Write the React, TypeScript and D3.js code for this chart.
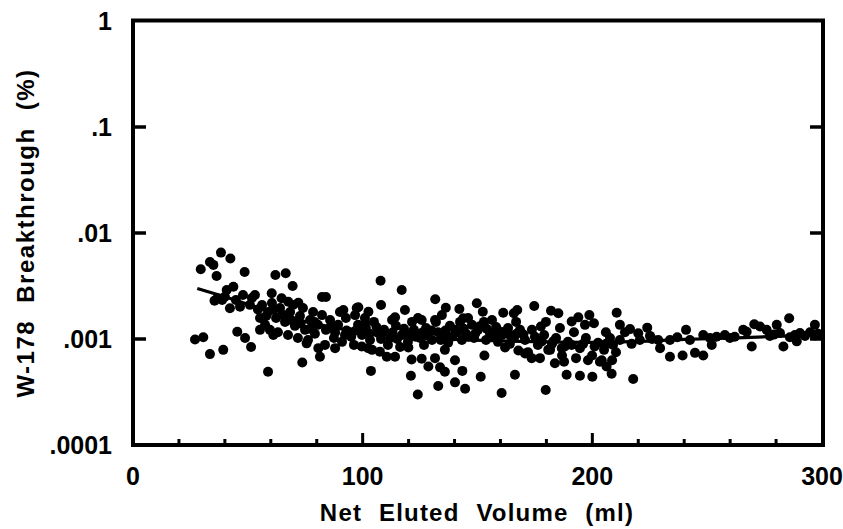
import React from "react";
import * as d3 from "d3";

// Net eluted volume (ml), W-178 breakthrough (%)
const points: [number, number][] = [
  [27.0,0.00099],[30.6,0.00104],[29.5,0.00455],[33.5,0.00533],[35.0,0.005],[38.3,0.00653],[42.4,0.00575],[36.4,0.00393],[33.5,0.00072],[39.3,0.00079],[48.6,0.00429],[36.7,0.00242],[40.8,0.0029],[43.7,0.00311],[45.4,0.00117],[48.8,0.00102],[51.4,0.00084],[58.8,0.00049],[62.0,0.00402],[66.5,0.00417],[69.5,0.00316],[60.4,0.0027],[53.1,0.0026],[64.7,0.00242],[67.6,0.00225],[72.0,0.0022],[42.2,0.00195],[46.6,0.00202],[50.9,0.0021],[73.7,0.0006],[81.4,0.00068],[80.7,0.00082],[75.6,0.00091],[55.3,0.00122],[61.1,0.00109],[82.3,0.00249],[84.0,0.00249],[91.6,0.00188],[97.4,0.00196],
  [44.8,0.00233],[47.9,0.0026],[51.8,0.00244],[54.4,0.0019],[38.8,0.00233],[35.5,0.0023],[40.0,0.0025],
  [56.2,0.00209],[58.8,0.0018],[60.5,0.00219],[62.3,0.00158],[64.0,0.00196],[66.2,0.00145],[68.4,0.0018],[70.5,0.00133],[72.7,0.00165],[74.9,0.00122],[77.1,0.00151],[79.2,0.00112],[57.5,0.00136],[59.6,0.00122],[63.1,0.00116],[67.5,0.00109],[71.8,0.00102],[76.2,0.00098],[55.3,0.00158],[69.7,0.00209],[74.0,0.00196],[78.4,0.0018],[80.5,0.00136],
  [82.3,0.00168],[84.0,0.00122],[85.8,0.00151],[87.5,0.00102],[89.3,0.00136],[91.0,0.00094],[92.7,0.00158],[94.5,0.00116],[96.2,0.00088],[98.0,0.00136],[99.7,0.00109],[101.4,0.00127],[103.2,0.00098],[104.9,0.00145],[106.7,0.00114],[83.6,0.00088],[88.0,0.00082],[92.3,0.00109],[96.7,0.00168],[101.0,0.00158],[104.1,0.00079],[90.1,0.0018],
  [109.3,0.00122],[111.9,0.00102],[114.5,0.00133],[117.1,0.00109],[119.7,0.00094],[122.3,0.00122],[125.0,0.00102],[127.6,0.00127],[130.2,0.00098],[132.8,0.00116],[135.4,0.00107],[138.0,0.00133],[111.0,0.00088],[116.3,0.00084],[121.5,0.00145],[126.7,0.00088],[131.9,0.00145],[137.2,0.00092],[112.8,0.00151],[124.1,0.00158],[134.5,0.00168],
  [140.2,0.00122],[142.4,0.00145],[145.0,0.00112],[147.6,0.00136],[150.2,0.00122],[152.8,0.00145],[155.4,0.00114],[158.1,0.0013],[160.7,0.00109],[163.3,0.00127],[165.9,0.00102],[168.5,0.00122],[143.2,0.00098],[148.5,0.00102],[153.7,0.00098],[158.9,0.00094],[164.1,0.0009],[145.9,0.00158],[156.3,0.00151],[166.8,0.00145],
  [170.7,0.00098],[173.7,0.00122],[176.3,0.00088],[179.0,0.00109],[181.6,0.00079],[184.2,0.00102],[186.8,0.0007],[189.4,0.00094],[192.0,0.00116],[194.6,0.00082],[197.2,0.00102],[199.9,0.0007],[202.5,0.00092],[205.1,0.00079],[207.7,0.00102],[210.3,0.00075],[172.0,0.00075],[177.2,0.00066],[182.4,0.0009],[187.7,0.00061],[192.9,0.00066],[198.1,0.00063],[203.3,0.00061],[208.6,0.00063],[196.8,0.00136],[185.9,0.00127],[179.8,0.00145],
  [216.4,0.00124],[220.0,0.00113],[223.9,0.00128],[217.1,0.0009],[228.7,0.00098],[233.8,0.00098],[229.5,0.00082],[233.8,0.00068],[239.3,0.0007],[244.7,0.00074],[248.3,0.0007],[240.8,0.00122],[248.3,0.00109],[251.2,0.00102],[254.1,0.00105],[252.0,0.00088],[259.9,0.00102],[265.7,0.00122],[267.2,0.00117],[269.4,0.00085],[270.5,0.00138],[273.0,0.00131],[275.9,0.00122],[280.3,0.00136],[283.2,0.00085],[285.7,0.00157],[296.9,0.00136],[288.2,0.00109],[290.4,0.00114],[292.6,0.00107],[294.8,0.00116],[298.3,0.00112],[281.7,0.00114],[277.3,0.00107],[242.5,0.00098],[257.7,0.00109],[220.7,0.00098],[225.1,0.00107],[212.0,0.00098],[214.2,0.00116],[289.0,0.00095],
  [210.6,0.00177],[212.0,0.00136],[198.7,0.00168],[193.9,0.0016],[191.0,0.00146],[200.7,0.00141],[205.9,0.00116],[188.8,0.00046],[194.6,0.00045],[200.0,0.00044],[217.8,0.00042],[208.4,0.00047],[206.2,0.00055],[204.1,0.00063],
  [107.8,0.00355],[117.0,0.0029],[131.6,0.00237],[136.2,0.00197],[142.1,0.00192],[143.8,0.00157],[149.7,0.00217],[152.3,0.00181],[161.2,0.00177],[167.3,0.00188],[165.8,0.00175],[174.7,0.00205],[182.0,0.00185],[185.2,0.00175],[108.0,0.00209],[118.4,0.00188],[114.1,0.0016],[98.1,0.00199],[102.5,0.00181],[101.0,0.0014],[125.7,0.00151],[131.5,0.00151],[177.6,0.00131],
  [103.6,0.0005],[121.0,0.00045],[124.0,0.0003],[132.9,0.00036],[140.2,0.00039],[144.6,0.00034],[143.4,0.0005],[140.2,0.00063],[135.8,0.00049],[133.7,0.00054],[128.6,0.00055],[131.5,0.00066],[121.3,0.00064],[125.7,0.00065],[151.4,0.00044],[153.0,0.0007],[160.5,0.00031],[166.3,0.00046],[179.7,0.00033],[183.7,0.00059],[173.6,0.00066],[170.7,0.00073],[167.8,0.00078],[162.0,0.00083],[135.8,0.00079],[119.9,0.00083],[114.1,0.00068],[110.5,0.00068],[107.5,0.00076],[99.6,0.00085],[102.4,0.00082],[180.8,0.00079],[186.7,0.00082],
  [58,0.00165],[61,0.0019],[65,0.0017],[69,0.0015],[73,0.0014],[77,0.00125],[79,0.00145],[86,0.0013],[88,0.00115],[93,0.0012],[95,0.00105],[97,0.0012],[100,0.00125],[103,0.00112],[106,0.0013],[108,0.001],[113,0.00115],[115,0.001],[118,0.00125],[120,0.0011],[123,0.00105],[126,0.00115],[128,0.00108],[130,0.0012],[134,0.00098],[136,0.0012],[139,0.00105],[141,0.00115],[144,0.00125],[146,0.00105],[149,0.00112],[151,0.00132],[154,0.00125],[157,0.0011],[159,0.0012],[162,0.00118],[164,0.0011],[167,0.00112],[170,0.0011],[175,0.00105],[178,0.00095],[183,0.00095],[188,0.00085],[191,0.00088],[196,0.0009],[201,0.00085],[206,0.0009],[209,0.00088],[226,0.001],[237,0.00104],[262,0.00105],[279,0.0011],[286,0.00104],[297,0.00108],
];

const fitVolume = [28, 40, 60, 80, 100, 120, 140, 160, 180, 200, 220, 240, 260, 280, 300];
const fitBreakthrough = [0.003, 0.0025, 0.0018, 0.00138, 0.00116, 0.00105, 0.00099, 0.00096, 0.00094, 0.00093, 0.00095, 0.00099, 0.00102, 0.00106, 0.0011];

const xTicks = [0, 100, 200, 300];
const xTickLabels = ["0", "100", "200", "300"];
const xMinorTicks = [20, 40, 60, 80, 120, 140, 160, 180, 220, 240, 260, 280];
const yTicks = [0.0001, 0.001, 0.01, 0.1, 1];
const yTickLabels = [".0001", ".001", ".01", ".1", "1"];

const xTitle = "Net Eluted Volume (ml)";
const yTitle = "W-178 Breakthrough (%)";

const W = 843, H = 529;
const left = 133, right = 822, top = 21, bottom = 445;
const font = "'Liberation Sans', Arial, Helvetica, sans-serif";

export default function App() {
  const x = d3.scaleLinear().domain([0, 300]).range([left, right]);
  const y = d3.scaleLog().domain([0.0001, 1]).range([bottom, top]);
  const fitLine = d3
    .line<number>()
    .x((_, i) => x(fitVolume[i]))
    .y((d) => y(d))
    .curve(d3.curveMonotoneX)(fitBreakthrough) as string;

  return (
    <svg width={W} height={H} style={{ position: "absolute", left: 0, top: 0, background: "#fff" }}>
      <rect x={0} y={0} width={W} height={H} fill="#fff" />
      {points.map(([v, b], i) => (
        <circle key={i} cx={x(v)} cy={y(b)} r={5} fill="#000" />
      ))}
      <path d={fitLine} fill="none" stroke="#000" strokeWidth={3.2} />
      {/* frame */}
      <rect x={left} y={top - 0.5} width={right - left + 1} height={bottom - top + 0.5} fill="none" stroke="#000" strokeWidth={4} />
      {/* x ticks */}
      {xMinorTicks.map((t) => (
        <line key={"m" + t} x1={x(t)} x2={x(t)} y1={bottom} y2={bottom - 6} stroke="#000" strokeWidth={3} />
      ))}
      {xTicks.slice(1, 3).map((t) => (
        <line key={"M" + t} x1={x(t)} x2={x(t)} y1={bottom} y2={bottom - 12} stroke="#000" strokeWidth={3} />
      ))}
      {xTicks.map((t, i) => (
        <text key={"xl" + t} x={x(t)} y={485} textAnchor="middle" fontFamily={font} fontWeight="bold" fontSize={25} fill="#000">
          {xTickLabels[i]}
        </text>
      ))}
      {/* y ticks */}
      {yTicks.slice(1, 4).map((t) => (
        <g key={"y" + t}>
          <line x1={left} x2={left + 13} y1={y(t)} y2={y(t)} stroke="#000" strokeWidth={3.5} />
          <line x1={right + 1} x2={right - 12} y1={y(t)} y2={y(t)} stroke="#000" strokeWidth={3.5} />
        </g>
      ))}
      {yTicks.map((t, i) => (
        <text key={"yl" + t} x={112} y={y(t)} dy="0.36em" textAnchor="end" fontFamily={font} fontWeight="bold" fontSize={25} fill="#000">
          {yTickLabels[i]}
        </text>
      ))}
      <text x={477} y={521} textAnchor="middle" fontFamily={font} fontWeight="bold" fontSize={24} letterSpacing={1.2} wordSpacing={9} fill="#000">
        {xTitle}
      </text>
      <text transform={`translate(34, 233) rotate(-90)`} textAnchor="middle" fontFamily={font} fontWeight="bold" fontSize={24} letterSpacing={1.5} wordSpacing={9} fill="#000">
        {yTitle}
      </text>
    </svg>
  );
}
